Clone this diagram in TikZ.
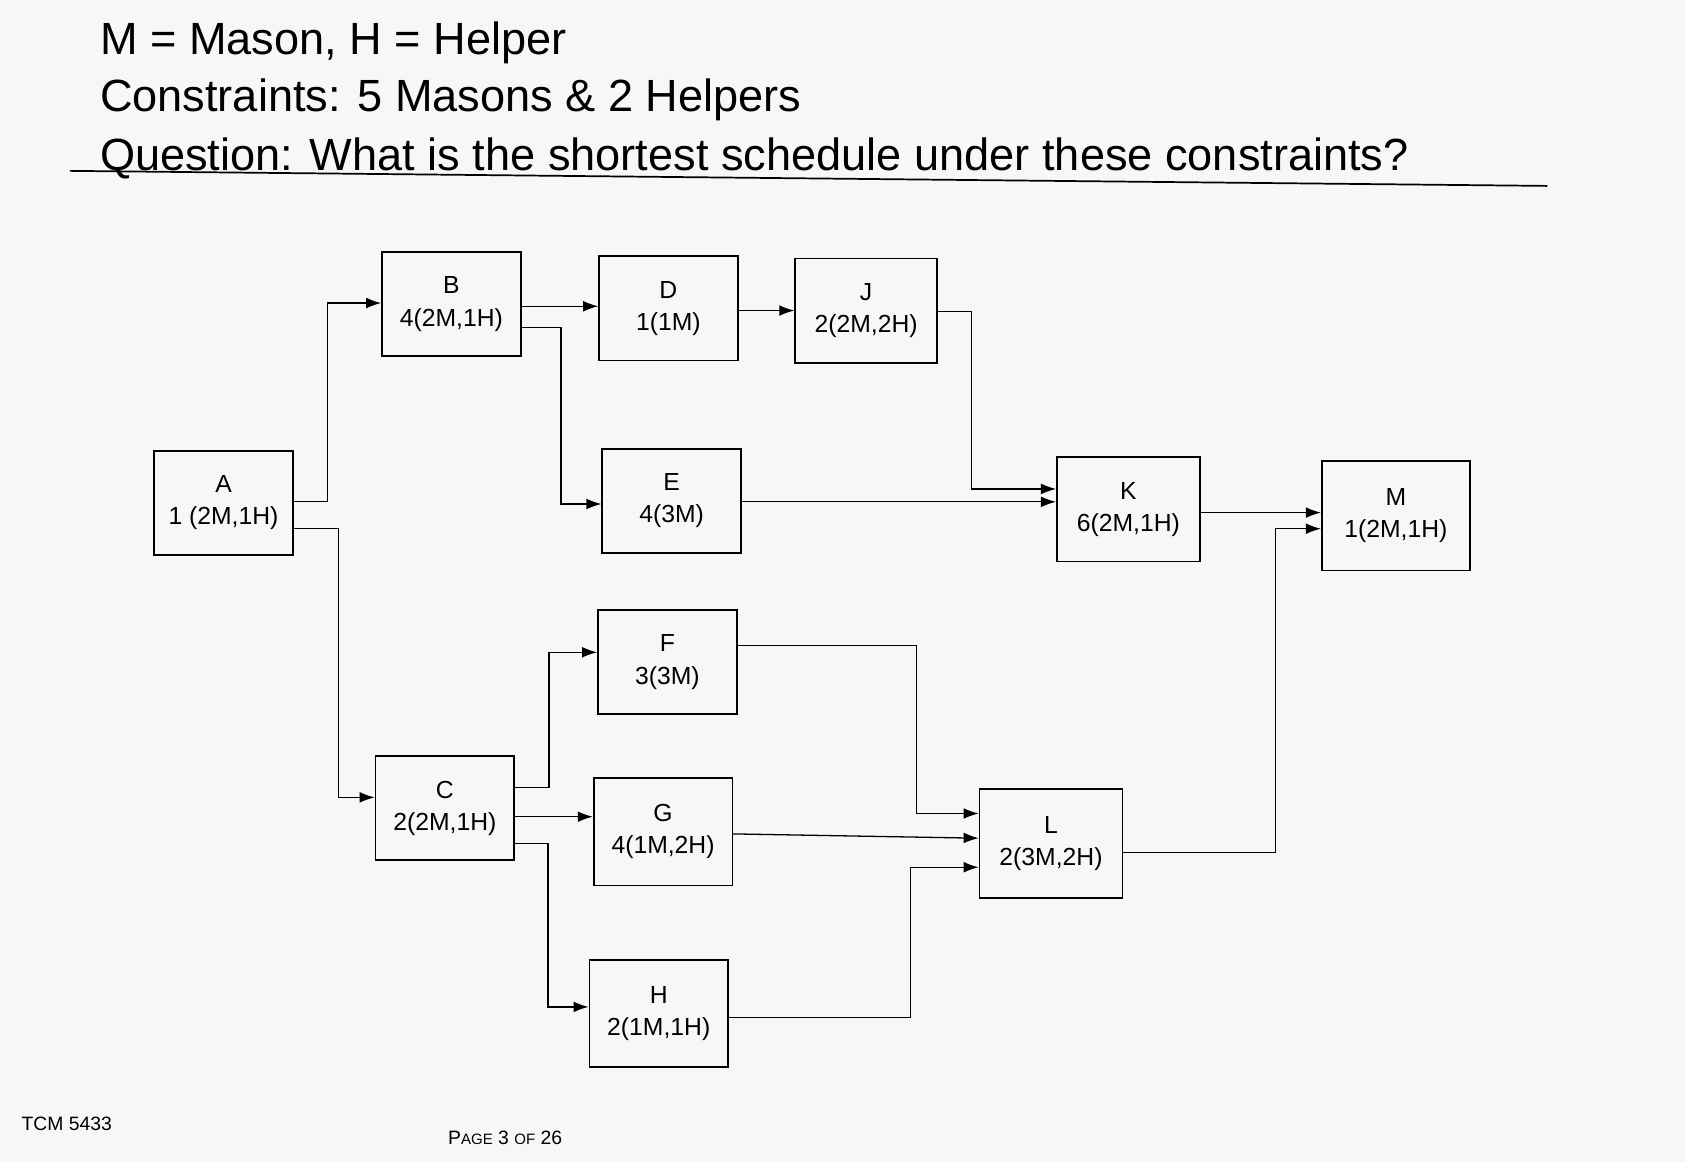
\documentclass[tikz,border=0pt]{standalone}
\usepackage{fontspec}
\setmainfont{Liberation Sans}
\usetikzlibrary{arrows.meta}
\begin{document}
\begin{tikzpicture}[x=0.5pt,y=-0.5pt,
  task/.style={draw,line width=0.8pt,minimum width=64.5pt,minimum height=48.5pt,align=center,font=\fontsize{11.5}{15}\selectfont,inner sep=1pt},
  link/.style={line width=0.6pt,-{Latex[length=7pt,width=5pt]}}]
\useasboundingbox[fill=white!94!gray] (0,0) rectangle (1568,1081);
\node[anchor=west,font=\fontsize{21}{25}\selectfont] (t1) at (86,40) {M = Mason, H = Helper};
\node[anchor=west,font=\fontsize{21}{25}\selectfont] (t2) at (86,93) {Constraints: 5 Masons \& 2 Helpers};
\node[anchor=west,font=\fontsize{21}{25}\selectfont] (t3) at (86,147) {Question: What is the shortest schedule under these constraints?};
\draw[line width=0.8pt] (65,159) -- (1440,173);
\node[anchor=west,font=\fontsize{9}{11}\selectfont] (f1) at (13,1046) {TCM 5433};
\node[anchor=west,font=\fontsize{9}{11}\selectfont] (f2) at (410,1059) {P{\fontsize{7}{9}\selectfont AGE} 3 {\fontsize{7}{9}\selectfont OF} 26};

\node[task] (A) at (208,468) {A\\1 (2M,1H)};
\node[task] (B) at (420,283) {B\\4(2M,1H)};
\node[task] (D) at (622,287) {D\\1(1M)};
\node[task,minimum width=66pt] (J) at (806,289) {J\\2(2M,2H)};
\node[task] (E) at (625,466) {E\\4(3M)};
\node[task,minimum width=66.5pt] (K) at (1050,474) {K\\6(2M,1H)};
\node[task,minimum width=69pt,minimum height=51pt] (M) at (1299,480) {M\\1(2M,1H)};
\node[task] (F) at (621,616) {F\\3(3M)};
\node[task] (C) at (414,752) {C\\2(2M,1H)};
\node[task,minimum height=50pt] (G) at (617,774) {G\\4(1M,2H)};
\node[task,minimum width=66.5pt,minimum height=50.5pt] (L) at (978,785) {L\\2(3M,2H)};
\node[task,minimum height=50pt] (H) at (613,943) {H\\2(1M,1H)};

\draw[link] (A.east|-0,467) -| (305,282) -- (B.west|-0,282);
\draw[link] (A.east|-0,492) -| (315,742) -- (C.west|-0,742);
\draw[link] (B.east|-0,285) -- (D.west|-0,285);
\draw[link] (B.east|-0,305) -| (522,469) -- (E.west|-0,469);
\draw[link] (D.east|-0,289) -- (J.west|-0,289);
\draw[link] (J.east|-0,290) -| (904,455) -- (K.west|-0,455);
\draw[link] (E.east|-0,467) -- (K.west|-0,467);
\draw[link] (K.east|-0,477) -- (M.west|-0,477);
\draw[link] (F.east|-0,601) -| (853,757) -- (L.west|-0,757);
\draw[link] (C.east|-0,733) -| (511,607) -- (F.west|-0,607);
\draw[link] (C.east|-0,760) -- (G.west|-0,760);
\draw[link] (C.east|-0,785) -| (510,937) -- (H.west|-0,937);
\draw[link] (G.east|-0,776) -- (L.west|-0,780);
\draw[link] (H.east|-0,947) -| (847,807) -- (L.west|-0,807);
\draw[link] (L.east|-0,793) -| (1187,492) -- (M.west|-0,492);
\end{tikzpicture}
\end{document}
